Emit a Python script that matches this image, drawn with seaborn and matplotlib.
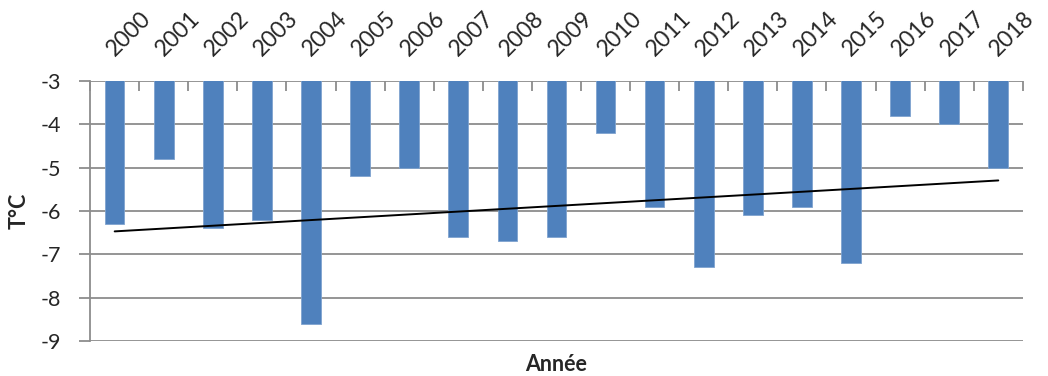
import numpy as np
import matplotlib
matplotlib.use("Agg")
import matplotlib.pyplot as plt
import seaborn as sns
from matplotlib.ticker import FixedLocator

# Annual values
years = [str(y) for y in range(2000, 2019)]
temps = [-6.3, -4.8, -6.4, -6.2, -8.6, -5.2, -5.0, -6.6, -6.7, -6.6,
         -4.2, -5.9, -7.3, -6.1, -5.9, -7.2, -3.8, -4.0, -5.0]

BAR_COLOR = "#4F81BD"
GRID_COLOR = "#8C8C8C"

sns.set_style("white")
plt.rcParams['font.family'] = ['Lato', 'DejaVu Sans']

fig = plt.figure(figsize=(10.48, 3.76), dpi=100)
ax = fig.add_axes([0.086, 0.093, 0.890, 0.692])

sns.barplot(x=years, y=temps, color=BAR_COLOR, width=0.4, saturation=1,
            edgecolor="#7FA3CF", linewidth=0.6, ax=ax, zorder=3)

# linear trendline over category positions
pos = np.arange(len(temps))
slope, intercept = np.polyfit(pos, temps, 1)
ax.plot(pos, slope * pos + intercept, color="black", lw=1.4, zorder=4)

ax.set_ylim(-9, -3)
ax.set_xlim(-0.5, len(years) - 0.5)
ax.set_yticks(range(-9, -2))
ax.set_yticklabels([str(v) for v in range(-9, -2)], fontsize=15.5)
ax.yaxis.grid(True, color=GRID_COLOR, lw=1.3, zorder=0)
ax.set_axisbelow(True)

# category labels on top, ticks between categories
ax.xaxis.tick_top()
ax.set_xticks(pos)
ax.set_xticklabels(years, rotation=45, rotation_mode="anchor",
                   ha="left", va="baseline", fontsize=16.5)
ax.tick_params(axis="x", which="major", length=0, pad=17)
ax.xaxis.set_minor_locator(FixedLocator(np.arange(-0.5, len(years), 1.0)))
ax.tick_params(axis="x", which="minor", top=True, bottom=False, direction="in",
               length=7, width=1.3, color=GRID_COLOR)
ax.tick_params(axis="y", left=True, direction="out", length=8, width=1.3,
               color=GRID_COLOR, pad=13)

for side in ["right", "bottom", "top"]:
    ax.spines[side].set_visible(False)
ax.spines["left"].set_color(GRID_COLOR)
ax.spines["left"].set_linewidth(1.3)

ax.xaxis.set_label_position("bottom")
ax.set_xlabel("Année", fontsize=15.5, fontweight="bold", labelpad=9)
ax.set_ylabel("T°C", fontsize=15.5, fontweight="bold", labelpad=8)

fig.savefig("out.png", dpi=100)
